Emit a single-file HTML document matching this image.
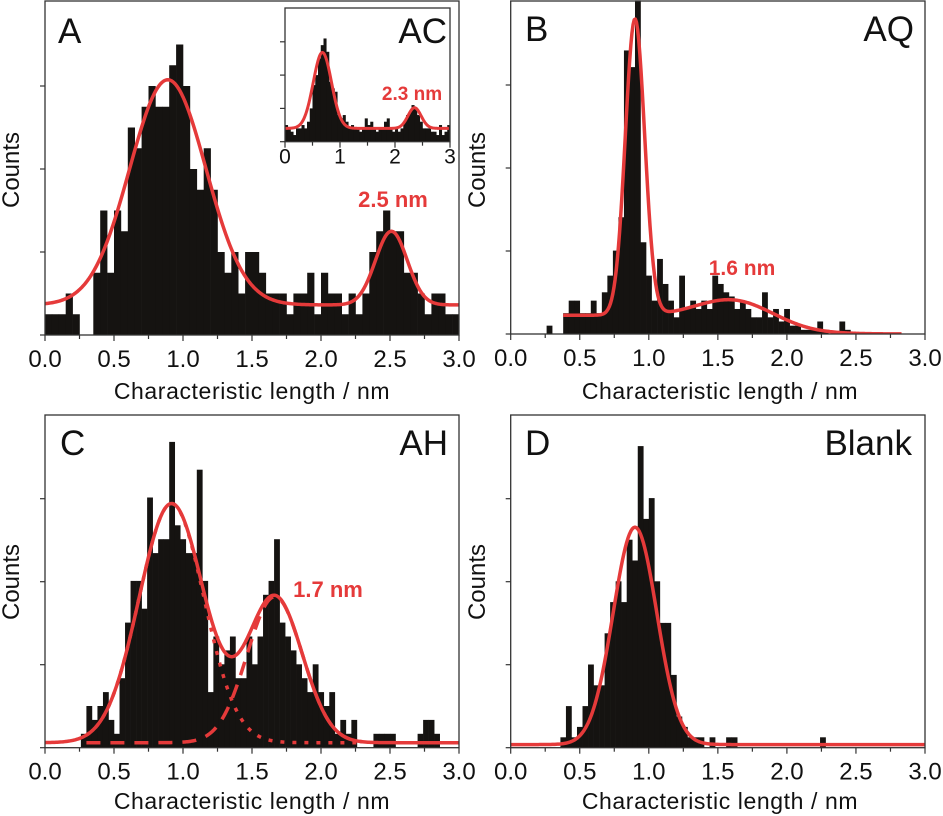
<!DOCTYPE html>
<html><head><meta charset="utf-8"><style>
html,body{margin:0;padding:0;background:#fff;}
svg{display:block;font-family:"Liberation Sans",Arial,sans-serif;}
</style></head><body>
<svg id="fig" width="943" height="816" viewBox="0 0 943 816"></svg>
<script>
// ---------- data ----------
const binsA = [1,1,1,2,1,0,0,3,6,3,6,5,10,9,11,12,11,11,13,14,12,8,7,9,7,4,3,4,2,4,4,3,2,2,2,1,2,2,3,1,3,2,2,1,2,1,2,4,5,6,5,5,3,3,2,1,2,2,1,1];
const binStartA = 0.0, binWidthA = 0.05;
const fitA = [1.45, 10.85, 0.89, 0.276, 3.55, 2.51, 0.115]; // base, amp1, c1, s1, amp2, c2, s2

const binsInset = [5,4,3,2,4,4,5,4,6,10,17,20,25,29,31,27,18,16,15,8,7,8,6,4,5,4,4,3,4,7,5,6,4,3,4,4,6,7,4,3,4,3,4,6,8,9,11,10,8,6,4,4,4,3,3,2,5,2,3,5];
const binStartInset = 0.0, binWidthInset = 0.05;
const fitInset = [4, 22.8, 0.68, 0.166, 6.2, 2.355, 0.12];

const binsB = [2,0,0,5,8,8,5,5,8,5,10,14,20,28,68,64,80,22,14,8,18,12,8,4,14,6,8,6,8,6,14,12,10,9,6,8,6,4,4,10,4,6,3,6,2,2,1,1,1,3,1,0,0,3,1];
const binStartB = 0.26, binWidthB = 0.04;
const fitB = [4.5, 71, 0.90, 0.07, 4, 1.60, 0.25]; // step-base, amp1, c1, s1, amp2, c2, s2

const binsC = [1,3,2,3,4,2,1,5,9,12,12,10,18,14,15,15,22,16,15,14,14,20,12,4,8,6,7,8,5,5,8,6,8,11,12,15,9,8,7,6,5,4,6,4,3,4,1,2,1,2,0,0,0,1,1,1,1,0,0,0,0,1,2,2,1];
const binStartC = 0.26, binWidthC = 0.04;
const fitC = [0.36, 17.2, 0.917, 0.235, 10.5, 1.665, 0.2];

const binsD = [1,4,1,2,4,8,6,6,11,14,16,14,20,18,29,22,24,16,12,12,7,3,2,1,1,1,0,1,0,0,1,1,0,0,0,0,0,0,0,0,0,0,0,0,0,0,0,1,0];
const binStartD = 0.36, binWidthD = 0.04;
const fitD = [0.3, 20.9, 0.90, 0.158];

const xTickLabels = ["0.0","0.5","1.0","1.5","2.0","2.5","3.0"];
const xTickValues = [0,0.5,1,1.5,2,2.5,3];
const insetTickLabels = ["0","1","2","3"];
const insetTickValues = [0,1,2,3];

// ---------- helpers ----------
const NS = "http://www.w3.org/2000/svg";
const svg = document.getElementById("fig");
const RED = "#e53a3a";
function el(tag, attrs, parent){
  const e = document.createElementNS(NS, tag);
  for (const k in attrs) e.setAttribute(k, attrs[k]);
  (parent||svg).appendChild(e);
  return e;
}
function gauss(x,a,c,s){return a*Math.exp(-(x-c)*(x-c)/(2*s*s));}

function makeScale(x0,x1,yb,ppc){
  return {x: v => x0 + (x1-x0)*v/3, y: c => yb - c*ppc, x0, x1, yb};
}

function drawFrame(sc, top, name, tickVals, tickLabels, tickFont, tickDy, yTickStep, minorStep){
  const g = el("g", {});
  
  
  const step = tickVals[1]-tickVals[0];
  for (let v=0; v<=3.0001; v+=minorStep){
    const x = sc.x(v);
    const major = Math.abs(v/step - Math.round(v/step))<1e-6;
    el("line",{x1:x,x2:x,y1:sc.yb,y2:sc.yb+(major?6:4),stroke:"#333","stroke-width":1.2},g);
  }
  tickVals.forEach((v,i)=>{
    const t = el("text",{x:sc.x(v),y:sc.yb+tickDy,"text-anchor":"middle","font-size":tickFont,fill:"#111"},g);
    t.textContent = tickLabels[i];
    
    
  });
  for (let y=sc.yb; y>=top+10; y-=yTickStep){
    el("line",{x1:sc.x0-5,x2:sc.x0,y1:y,y2:y,stroke:"#333","stroke-width":1.2},g);
  }
  const r = el("rect",{x:sc.x0,y:top,width:sc.x1-sc.x0,height:sc.yb-top,fill:"none",stroke:"#333","stroke-width":1.3},g);
  
  
}

function drawBars(sc, bins, start, width, name, clipId){
  const g = el("g",{"clip-path":"url(#"+clipId+")"});
  
  
  bins.forEach((c,i)=>{
    if (c<=0) return;
    const xa = sc.x(start+i*width), xb = sc.x(start+(i+1)*width);
    const b = el("rect",{x:xa,y:sc.y(c),width:xb-xa+0.3,height:sc.yb-sc.y(c),fill:"#151311"},g);
    
    
  });
}

function drawCurve(sc, fn, xa, xb, name, clipId, sw, dash){
  let d="";
  for (let i=0;i<=300;i++){
    const v = xa + (xb-xa)*i/300;
    d += (i?"L":"M") + sc.x(v).toFixed(2) + "," + sc.y(fn(v)).toFixed(2);
  }
  const attrs = {d:d,fill:"none",stroke:RED,"stroke-width":sw,"stroke-linejoin":"round","clip-path":"url(#"+clipId+")"};
  if (dash) attrs["stroke-dasharray"]=dash;
  const p = el("path",attrs);
  
  
}

function clip(id, sc, top){
  const defs = el("defs",{});
  const cp = el("clipPath",{id:id},defs);
  el("rect",{x:sc.x0,y:top-2,width:sc.x1-sc.x0+4,height:sc.yb-top+2},cp);
}

function label(txt, x, y, size, opts, name){
  const t = el("text", Object.assign({x:x,y:y,"font-size":size,fill:"#111"}, opts||{}));
  t.textContent = txt;
  
  
  return t;
}
const TITLE = {"text-anchor":"middle","letter-spacing":"0.6"};

// ---------- Panel A ----------
const scA = makeScale(45,459,335,20.75);
clip("cA",scA,1);
drawBars(scA,binsA,binStartA,binWidthA,"panel-a","cA");
drawCurve(scA,v=>fitA[0]+gauss(v,fitA[1],fitA[2],fitA[3])+gauss(v,fitA[4],fitA[5],fitA[6]),0,3,"panel-a-fit-curve","cA",3.5);
drawFrame(scA,1,"panel-a",xTickValues,xTickLabels,24,32,83,0.25);
label("A",58,43,35,{},"panel-a-letter");
label("2.5 nm",393,207,22,{"text-anchor":"middle","font-weight":"bold",fill:RED},"panel-a-peak-label");
label("Counts",19,170,24,{"text-anchor":"middle",transform:"rotate(-90 19 170)"},"panel-a-y-axis-title");
label("Characteristic length / nm",252,399,23,TITLE,"panel-a-x-axis-title");

// inset
el("rect",{x:284,y:8,width:167,height:134,fill:"#fff"});
const scI = makeScale(285,450,141.7,3.33);
clip("cI",scI,8);
drawBars(scI,binsInset,binStartInset,binWidthInset,"inset-ac","cI");
drawCurve(scI,v=>fitInset[0]+gauss(v,fitInset[1],fitInset[2],fitInset[3])+gauss(v,fitInset[4],fitInset[5],fitInset[6]),0,2.98,"inset-ac-fit-curve","cI",3);
drawFrame(scI,8,"inset-ac",insetTickValues,insetTickLabels,21,22,33.3,0.5);
label("AC",447,43,35,{"text-anchor":"end"},"inset-ac-title");
label("2.3 nm",412,100,19,{"text-anchor":"middle","font-weight":"bold",fill:RED},"inset-peak-label");

// ---------- Panel B ----------
const scB = makeScale(510.7,925,334,4.17);
clip("cB",scB,1);
drawBars(scB,binsB,binStartB,binWidthB,"panel-b","cB");
drawCurve(scB,v=>fitB[0]/(1+Math.exp((v-2.0)/0.15))+gauss(v,fitB[1],fitB[2],fitB[3])+gauss(v,fitB[4],fitB[5],fitB[6]),0.38,2.83,"panel-b-fit-curve","cB",3.5);
drawFrame(scB,1,"panel-b",xTickValues,xTickLabels,24,32,83,0.25);
label("B",525,41,35,{},"panel-b-letter");
label("AQ",914,41,35,{"text-anchor":"end"},"panel-b-title");
label("1.6 nm",742,275,21,{"text-anchor":"middle","font-weight":"bold",fill:RED},"panel-b-peak-label");
label("Counts",485,170,24,{"text-anchor":"middle",transform:"rotate(-90 485 170)"},"panel-b-y-axis-title");
label("Characteristic length / nm",720,399,23,TITLE,"panel-b-x-axis-title");

// ---------- Panel C ----------
const scC = makeScale(45,459,747.7,13.9);
clip("cC",scC,415);
drawBars(scC,binsC,binStartC,binWidthC,"panel-c","cC");
drawCurve(scC,v=>fitC[0]+gauss(v,fitC[1],fitC[2],fitC[3]),0.3,2.3,"panel-c-component-1","cC",3.5,"4,8");
drawCurve(scC,v=>fitC[0]+gauss(v,fitC[4],fitC[5],fitC[6]),0.3,2.3,"panel-c-component-2","cC",3.5,"14,10");
drawCurve(scC,v=>fitC[0]+gauss(v,fitC[1],fitC[2],fitC[3])+gauss(v,fitC[4],fitC[5],fitC[6]),0,3,"panel-c-fit-curve","cC",3.5);
drawFrame(scC,415,"panel-c",xTickValues,xTickLabels,24,32,83,0.25);
label("C",60,455,35,{},"panel-c-letter");
label("AH",448,455,35,{"text-anchor":"end"},"panel-c-title");
label("1.7 nm",328,597,22,{"text-anchor":"middle","font-weight":"bold",fill:RED},"panel-c-peak-label");
label("Counts",19,582,24,{"text-anchor":"middle",transform:"rotate(-90 19 582)"},"panel-c-y-axis-title");
label("Characteristic length / nm",252,809,23,TITLE,"panel-c-x-axis-title");

// ---------- Panel D ----------
const scD = makeScale(510.7,925,747.7,10.4);
clip("cD",scD,415);
drawBars(scD,binsD,binStartD,binWidthD,"panel-d","cD");
drawCurve(scD,v=>fitD[0]+gauss(v,fitD[1],fitD[2],fitD[3]),0,3,"panel-d-fit-curve","cD",3.5);
drawFrame(scD,415,"panel-d",xTickValues,xTickLabels,24,32,83,0.25);
label("D",525,455,35,{},"panel-d-letter");
label("Blank",912,455,35,{"text-anchor":"end"},"panel-d-title");
label("Counts",485,582,24,{"text-anchor":"middle",transform:"rotate(-90 485 582)"},"panel-d-y-axis-title");
label("Characteristic length / nm",720,809,23,TITLE,"panel-d-x-axis-title");
</script>
</body></html>
